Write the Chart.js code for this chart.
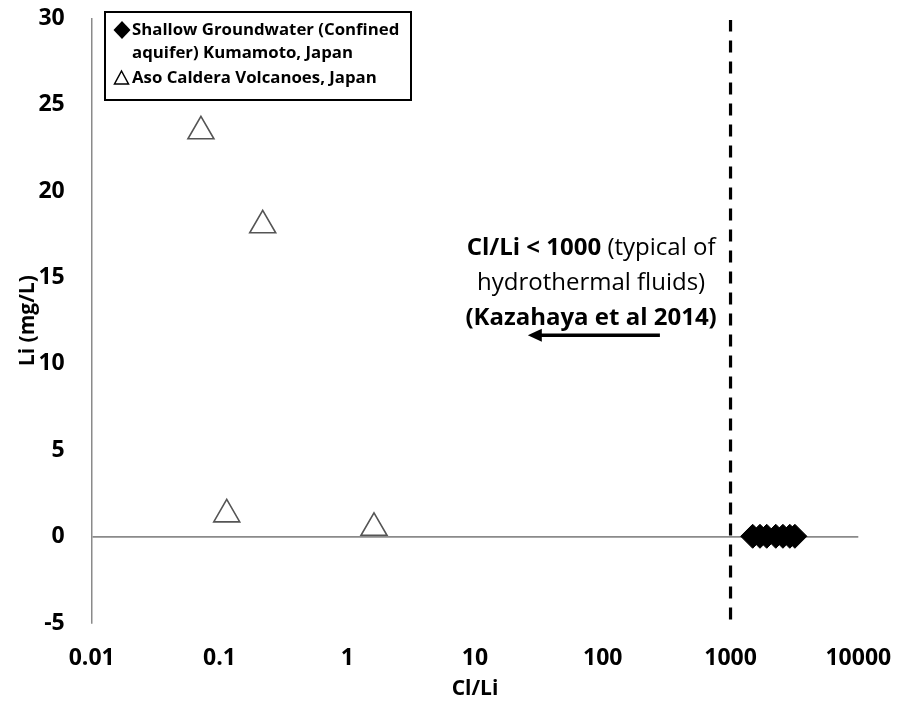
<!DOCTYPE html>
<html>
<head>
<meta charset="utf-8">
<script src="https://cdn.jsdelivr.net/npm/chart.js@4.4.1/dist/chart.umd.min.js"></script>
<style>
  html, body { margin: 0; padding: 0; background: #fff; }
  #wrap { width: 897px; height: 705px; position: relative; }
</style>
</head>
<body>
<div id="wrap"><canvas id="c"></canvas></div>
<script>
// ---- Data ----
const xTickValues = [0.01, 0.1, 1, 10, 100, 1000, 10000];
const xTickLabels = ['0.01', '0.1', '1', '10', '100', '1000', '10000'];
const yTickValues = [-5, 0, 5, 10, 15, 20, 25, 30];
const yTickLabels = ['-5', '0', '5', '10', '15', '20', '25', '30'];

const groundwaterName = ['Shallow Groundwater (Confined', 'aquifer) Kumamoto, Japan'];
const groundwaterClLi = [1490, 1700, 1920, 2260, 2570, 2910, 3190];
const groundwaterLi   = [0.02, 0.02, 0.02, 0.02, 0.02, 0.02, 0.02];

const asoName = 'Aso Caldera Volcanoes, Japan';
const asoClLi = [0.0716, 0.218, 0.114, 1.62];
const asoLi   = [23.46, 18.02, 1.29, 0.51];

const thresholdClLi = 1000;
const thresholdLiRange = [-4.8, 29.9];

const noteLines = [
  [{t: 'Cl/Li < 1000', b: true}, {t: ' (typical of', b: false}],
  [{t: 'hydrothermal fluids)', b: false}],
  [{t: '(Kazahaya et al 2014)', b: true}]
];
const arrowFrom = {x: 280, y: 11.66};
const arrowTo   = {x: 25.9, y: 11.66};
const noteCenter = {x: 81, y: 16.7}; // data coords of first line center

const FONT = '"Open Sans"';

const toPts = (xs, ys) => xs.map((x, i) => ({x: x, y: ys[i]}));

// ---- Plugin: legend box, annotation, arrow ----
const overlay = {
  id: 'overlay',
  afterDatasetsDraw(chart) {
    const ctx = chart.ctx;
    const xs = chart.scales.x, ys = chart.scales.y;
    ctx.save();
    // Legend box
    ctx.fillStyle = '#fff';
    ctx.fillRect(105, 12, 306, 88);
    ctx.strokeStyle = '#000';
    ctx.lineWidth = 2;
    ctx.strokeRect(105, 12, 306, 88);
    // Diamond marker
    ctx.fillStyle = '#000';
    ctx.beginPath();
    ctx.moveTo(122, 21); ctx.lineTo(130.5, 30); ctx.lineTo(122, 39); ctx.lineTo(113.5, 30);
    ctx.closePath(); ctx.fill();
    // Triangle marker
    ctx.strokeStyle = '#000';
    ctx.lineWidth = 1.5;
    ctx.fillStyle = '#fff';
    ctx.beginPath();
    ctx.moveTo(121.5, 71); ctx.lineTo(128.5, 84); ctx.lineTo(114.5, 84);
    ctx.closePath(); ctx.fill(); ctx.stroke();
    ctx.fillStyle = '#000';
    ctx.font = 'bold 16.8px ' + FONT;
    ctx.textBaseline = 'middle';
    ctx.textAlign = 'left';
    ctx.fillText(groundwaterName[0], 132, 30);
    ctx.fillText(groundwaterName[1], 132, 53);
    ctx.fillText(asoName, 132, 78);

    // Annotation text (centered)
    const cx = xs.getPixelForValue(noteCenter.x);
    const cy0 = ys.getPixelForValue(noteCenter.y);
    noteLines.forEach((parts, i) => {
      let total = 0;
      parts.forEach(p => {
        ctx.font = (p.b ? 'bold ' : '') + '24px ' + FONT;
        p.w = ctx.measureText(p.t).width;
        total += p.w;
      });
      let x = cx - total / 2;
      const y = cy0 + i * 35;
      parts.forEach(p => {
        ctx.font = (p.b ? 'bold ' : '') + '24px ' + FONT;
        ctx.fillText(p.t, x, y);
        x += p.w;
      });
    });

    // Arrow
    const ax0 = xs.getPixelForValue(arrowFrom.x), ay = ys.getPixelForValue(arrowFrom.y);
    const ax1 = xs.getPixelForValue(arrowTo.x);
    ctx.strokeStyle = '#000';
    ctx.lineWidth = 3.5;
    ctx.beginPath();
    ctx.moveTo(ax0, ay); ctx.lineTo(ax1 + 10, ay);
    ctx.stroke();
    ctx.fillStyle = '#000';
    ctx.beginPath();
    ctx.moveTo(ax1, ay); ctx.lineTo(ax1 + 14, ay - 6.5); ctx.lineTo(ax1 + 14, ay + 6.5);
    ctx.closePath(); ctx.fill();
    ctx.restore();
  }
};

new Chart(document.getElementById('c'), {
  type: 'scatter',
  data: {
    datasets: [
      {
        type: 'line',
        label: 'threshold',
        data: [{x: thresholdClLi, y: thresholdLiRange[0]}, {x: thresholdClLi, y: thresholdLiRange[1]}],
        borderColor: '#000',
        borderWidth: 3.2,
        borderDash: [12, 9],
        pointRadius: 0,
        fill: false,
        order: 3
      },
      {
        label: groundwaterName.join(' '),
        data: toPts(groundwaterClLi, groundwaterLi),
        pointStyle: 'rectRot',
        pointRadius: 12,
        pointHoverRadius: 12,
        backgroundColor: '#000',
        borderColor: '#000',
        borderWidth: 1,
        order: 2
      },
      {
        label: asoName,
        data: toPts(asoClLi, asoLi),
        pointStyle: 'triangle',
        pointRadius: 15,
        pointHoverRadius: 15,
        backgroundColor: '#fff',
        borderColor: '#555',
        borderWidth: 1.6,
        order: 1
      }
    ]
  },
  options: {
    responsive: true,
    maintainAspectRatio: false,
    animation: false,
    layout: { padding: { left: 0, right: 38.7, top: 18.3, bottom: 0 } },
    plugins: {
      legend: { display: false },
      tooltip: { enabled: false }
    },
    scales: {
      x: {
        type: 'logarithmic',
        min: 0.01,
        max: 10000,
        afterBuildTicks(scale) { scale.ticks = xTickValues.map(v => ({value: v})); },
        afterFit(scale) {
          scale.height = 82;
          scale.paddingLeft = 0; scale.paddingRight = 0;
        },
        border: { display: false },
        grid: { display: false, drawTicks: false },
        ticks: {
          autoSkip: false,
          maxRotation: 0,
          padding: 22,
          color: '#000',
          font: { family: FONT, size: 23, weight: 'bold' },
          callback: (v, i) => xTickLabels[i]
        },
        title: {
          display: true,
          text: 'Cl/Li',
          color: '#000',
          font: { family: FONT, size: 21, weight: 'bold' },
          padding: { top: 0, bottom: 3 }
        }
      },
      y: {
        type: 'linear',
        min: -5,
        max: 30,
        afterBuildTicks(scale) { scale.ticks = yTickValues.map(v => ({value: v})); },
        afterFit(scale) {
          scale.width = 91.7;
          scale.paddingTop = 0; scale.paddingBottom = 0;
        },
        border: { display: true, color: '#8a8a8a', width: 1.5 },
        grid: {
          drawTicks: false,
          color: (c) => (c.tick && c.tick.value === 0 ? '#8a8a8a' : 'rgba(0,0,0,0)'),
          lineWidth: 1.8
        },
        ticks: {
          padding: 27,
          color: '#000',
          font: { family: FONT, size: 23, weight: 'bold' },
          callback: (v, i) => yTickLabels[i]
        },
        title: {
          display: true,
          text: 'Li (mg/L)',
          color: '#000',
          font: { family: FONT, size: 21, weight: 'bold' },
          padding: { top: 15, bottom: 0 }
        }
      }
    }
  },
  plugins: [overlay]
});
</script>
</body>
</html>
